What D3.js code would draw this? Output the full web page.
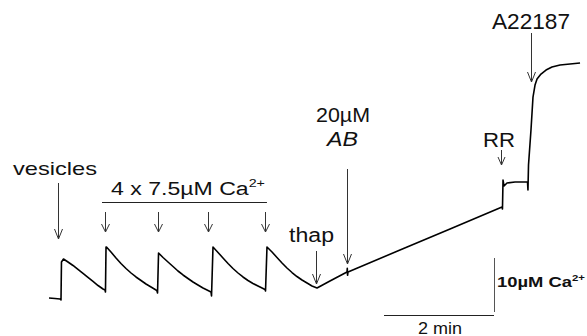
<!DOCTYPE html>
<html><head><meta charset="utf-8">
<script src="https://cdn.jsdelivr.net/npm/d3@7"></script>
<style>
html,body{margin:0;padding:0;background:#fff;}
svg{display:block;}
text{font-family:"Liberation Sans",Arial,sans-serif;fill:#111;}
</style></head>
<body>
<script>
// ---- data: time (s) and free Ca2+ signal (µM, relative to start) ----
const traceTime = [0,6.5,12,13.1,13.6,15.8,20.7,26.2,31.6,37.1,42.5,48,53.5,58.9,61.1,61.6,
  62.2,62.7,67.6,73.1,78.5,84,89.5,94.9,100.4,105.8,111.3,116.7,117.8,118.4,
  119.5,124.4,129.8,135.3,140.7,146.2,151.6,157.1,162.5,168,173.5,176.7,177.3,
  178.9,184.4,189.8,195.3,200.7,206.2,211.6,217.1,222.5,228,233.5,235.6,236.2,
  237.8,243.3,248.7,254.2,259.6,265.1,270.5,276,281.5,286.9,292.4,
  306.5,325.1,325.4,325.7,326.2,382.9,437.5,494.2,
  494.7,495.3,496.4,499.6,508.4,522,522.5,523.1,525.8,528,530.2,532.4,536.7,542.2,548.7,557.5,568.4,579.3];
const traceCa = [0,-0.09,-0.19,-0.37,6.67,7.22,6.67,6.02,5.28,4.54,3.80,3.06,2.31,1.67,1.48,1.11,
  9.44,9.44,8.52,7.41,6.39,5.46,4.63,3.89,3.24,2.59,2.04,1.48,1.30,0.93,
  8.33,7.5,6.67,5.83,5.0,4.26,3.61,2.96,2.41,1.85,1.39,1.11,0.37,
  9.44,8.43,7.41,6.39,5.46,4.63,3.89,3.24,2.69,2.22,1.76,1.57,1.30,
  9.44,8.52,7.5,6.48,5.56,4.72,3.98,3.33,2.78,2.22,1.85,
  3.15,4.81,5.5,4.2,4.81,8.89,12.78,16.85,
  16.48,21.85,20.74,21.3,21.48,21.48,20.0,24.63,31.11,37.22,39.44,40.56,41.48,42.22,42.78,43.15,43.33,43.52];

// additions (time of addition, s)
const vesicleTime = [9.8];
const caPulseTimes = [61.1, 118.9, 173.5, 235.6];
const thapTime = [291.3];
const abTime = [325.1];
const rrTime = [493.1];
const a23187Time = [525.8];

// labels
const caPulseLabel = "4 x 7.5µM Ca";
const abLabel = ["20µM", "AB"];
const scaleTimeLabel = "2 min";
const scaleCaLabel = "10µM Ca";
const scaleTime = 120;   // s
const scaleCa = 10;      // µM

// ---- drawing ----
const W = 587, H = 336;
const svg = d3.select("body").append("svg").attr("width", W).attr("height", H);

const x = d3.scaleLinear().domain([0, 120]).range([49, 159]);
const y = d3.scaleLinear().domain([0, 10]).range([298, 244]);

const pts = traceTime.map((t, i) => [t, traceCa[i]]);
svg.append("path")
  .attr("d", d3.line().x(d => x(d[0])).y(d => y(d[1]))(pts))
  .attr("fill", "none").attr("stroke", "#000").attr("stroke-width", 1.6)
  .attr("stroke-linejoin", "round");

const arrowG = svg.append("g").attr("stroke", "#333").attr("stroke-width", 1).attr("fill", "none");
function arrow(t, y0, y1, hw, hl) {
  const xx = Math.round(x(t)) + 0.5;
  arrowG.append("line").attr("x1", xx).attr("x2", xx).attr("y1", y0).attr("y2", y1);
  arrowG.append("path").attr("d", `M${xx - hw},${y1 - hl}L${xx},${y1}L${xx + hw},${y1 - hl}`);
}
vesicleTime.forEach(t => arrow(t, 183, 239, 4, 10));
caPulseTimes.forEach(t => arrow(t, 212, 232, 4, 8));
thapTime.forEach(t => arrow(t, 251, 284, 4, 10));
abTime.forEach(t => arrow(t, 169, 264, 4, 10));
rrTime.forEach(t => arrow(t, 150, 165, 3.5, 8));
a23187Time.forEach(t => arrow(t, 33, 82, 4, 10));

// bracket over Ca pulses
svg.append("line")
  .attr("x1", x(caPulseTimes[0]) - 3).attr("x2", x(caPulseTimes[3]) + 2)
  .attr("y1", 202.5).attr("y2", 202.5).attr("stroke", "#222").attr("stroke-width", 1);

// scale bars
const sbT1 = x.invert(494), sbT0 = sbT1 - scaleTime;
const sbC0 = y.invert(312);
svg.append("line").attr("x1", x(sbT0)).attr("x2", x(sbT1)).attr("y1", 315.5).attr("y2", 315.5)
  .attr("stroke", "#222").attr("stroke-width", 1);
svg.append("line").attr("x1", 494.5).attr("x2", 494.5).attr("y1", y(sbC0)).attr("y2", y(sbC0 + scaleCa))
  .attr("stroke", "#555").attr("stroke-width", 1);

function label(str, x0, by, size, width, opts = {}) {
  const t = svg.append("text").attr("x", x0).attr("y", by).attr("font-size", size);
  if (opts.italic) t.attr("font-style", "italic");
  if (opts.bold) t.attr("font-weight", "bold");
  t.append("tspan").text(str);
  if (opts.sup) t.append("tspan").attr("dy", -size * 0.42).attr("font-size", size * 0.62).text(opts.sup);
  if (width) t.attr("textLength", width).attr("lengthAdjust", "spacingAndGlyphs");
  return t;
}
label("A22187", 492, 29, 22, 78);
label(abLabel[0], 316, 122, 20, 54);
label(abLabel[1], 327, 146, 20, 31, {italic: true});
label("RR", 483, 147, 21, 32);
label("vesicles", 13, 175, 19, 84);
label(caPulseLabel, 111, 195, 18, 154, {sup: "2+"});
label("thap", 289, 242, 20, 45);
label(scaleCaLabel, 497, 287, 15, 88, {bold: true, sup: "2+"});
label(scaleTimeLabel, 418, 334, 16, 44);
</script>
</body></html>
